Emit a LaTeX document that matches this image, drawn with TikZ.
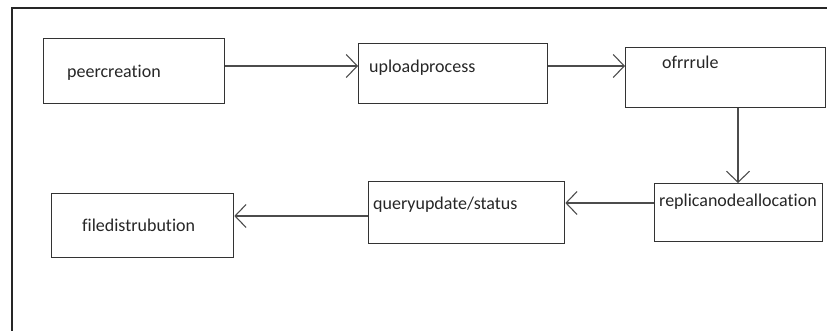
\documentclass[tikz,border=0pt]{standalone}
\usepackage{fontspec}
\setmainfont{Carlito}[Ligatures={NoCommon,NoContextual}]
\usetikzlibrary{arrows.meta, positioning}
\tikzset{
  box/.style={draw=black!80, line width=1.3pt, anchor=north west, inner sep=0pt},
  lbl/.style={anchor=base west, inner sep=0pt, text=black!85, font=\fontsize{18}{21}\selectfont},
  flow/.style={draw=black!70, line width=1.3pt, -{Straight Barb[length=11pt,width=23pt,line width=1.1pt]}}
}

\begin{document}
\begin{tikzpicture}[x=1pt, y=-1pt]
  \useasboundingbox (0,0) rectangle (827,331);

  % frame
  \draw[black!85, line width=1.5pt] (827,8) -- (12,8) -- (12,331);

  % boxes
  \node[box, minimum width=181pt, minimum height=65pt] (peer) at (43,38) {};
  \node[box, minimum width=189pt, minimum height=60pt] (upload) at (358,43) {};
  \node[box, minimum width=200pt, minimum height=60pt] (ofrr) at (625,47) {};
  \node[box, minimum width=168pt, minimum height=58pt] (replica) at (654,183) {};
  \node[box, minimum width=196pt, minimum height=62pt] (query) at (368,181) {};
  \node[box, minimum width=182pt, minimum height=64pt] (file) at (51,193) {};

  % texts
  \node[lbl] (peer-t) at (67,78) {peercreation};
  \node[lbl] (upload-t) at (369,73) {uploadprocess};
  \node[lbl] (ofrr-t) at (662,69) {ofrrrule};
  \node[lbl] (replica-t) at (659,207) {replicanodeallocation};
  \node[lbl] (query-t) at (373,210) {queryupdate/status};
  \node[lbl] (file-t) at (82,231) {filedistrubution};

  % arrows
  \draw[flow] (peer.east |- 0,66) -- (upload.west |- 0,66);
  \draw[flow] (upload.east |- 0,66) -- (ofrr.west |- 0,66);
  \draw[flow] (ofrr.south -| 738,0) -- (replica.north -| 738,0);
  \draw[flow] (replica.west |- 0,203) -- (query.east |- 0,203);
  \draw[flow] (query.west |- 0,216) -- (file.east |- 0,216);
\end{tikzpicture}
\end{document}
